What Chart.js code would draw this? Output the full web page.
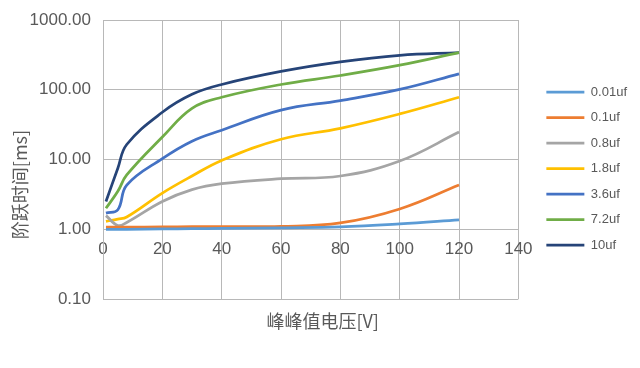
<!DOCTYPE html>
<html>
<head>
<meta charset="utf-8">
<script src="https://cdn.jsdelivr.net/npm/chart.js@4"></script>
<style>
  html, body { margin: 0; padding: 0; background: #ffffff; }
  #wrap { width: 640px; height: 368px; }
</style>
</head>
<body>
<div id="wrap"><canvas id="c" width="640" height="368"></canvas></div>
<script>
// ---- data ----
const voltages = [1, 5, 8, 20, 30, 40, 60, 80, 100, 120];
const seriesNames = ['0.01uf', '0.1uf', '0.8uf', '1.8uf', '3.6uf', '7.2uf', '10uf'];
const s001 = [1.00, 1.00, 1.00, 1.01, 1.02, 1.03, 1.05, 1.08, 1.19, 1.36];
const s01  = [1.07, 1.07, 1.07, 1.08, 1.09, 1.09, 1.10, 1.23, 1.95, 4.3];
const s08  = [1.57, 1.13, 1.25, 2.5, 3.7, 4.5, 5.3, 5.8, 9.5, 24.7];
const s18  = [1.3, 1.4, 1.5, 3.3, 5.8, 9.7, 19.5, 28, 45, 78];
const s36  = [1.7, 1.9, 4.3, 10.3, 18.3, 26.3, 51, 70, 101, 169];
const s72  = [2.0, 3.5, 6.0, 21, 54, 78, 119, 160, 225, 340];
const s10  = [2.5, 7.5, 16.4, 47.6, 86, 119, 183, 251, 311, 340];
const yTickValues = [0.1, 1, 10, 100, 1000];
const xTitle = '峰峰值电压[V]';
const yTitle = '阶跃时间[ms]';

const seriesValues = [s001, s01, s08, s18, s36, s72, s10];
const colors = ['#5B9BD5', '#ED7D31', '#A5A5A5', '#FFC000', '#4472C4', '#70AD47', '#264478'];

const datasets = seriesNames.map((name, i) => ({
  label: name,
  data: voltages.map((v, j) => ({ x: v, y: seriesValues[i][j] })),
  borderColor: colors[i],
  backgroundColor: colors[i],
  borderWidth: 2.75,
  pointRadius: 0,
  pointHoverRadius: 0,
  tension: 0.4,
  fill: false
}));

const gridColor = '#B8B8B8';
const textColor = '#595959';

const titlesPlugin = {
  id: 'axisTitles',
  afterDraw(chart) {
    const { ctx, chartArea } = chart;
    ctx.save();
    ctx.fillStyle = textColor;
    ctx.font = '18px "Noto Sans CJK SC", sans-serif';
    ctx.textAlign = 'center';
    ctx.textBaseline = 'middle';
    ctx.fillText(xTitle, (chartArea.left + chartArea.right) / 2 + 12, chartArea.bottom + 22);
    ctx.translate(20, (chartArea.top + chartArea.bottom) / 2 + 25);
    ctx.rotate(-Math.PI / 2);
    ctx.fillText(yTitle, 0, 0);
    ctx.restore();
  }
};

new Chart(document.getElementById('c'), {
  type: 'line',
  data: { datasets },
  plugins: [titlesPlugin],
  options: {
    responsive: false,
    animation: false,
    devicePixelRatio: 1,
    layout: { padding: { top: 20, bottom: 69, left: 0, right: 3 } },
    plugins: {
      tooltip: { enabled: false },
      legend: {
        position: 'right',
        title: { display: true, text: '', font: { size: 12 }, padding: 2 },
        labels: {
          usePointStyle: true,
          pointStyle: 'line',
          pointStyleWidth: 38,
          boxWidth: 38,
          padding: 12.5,
          color: textColor,
          font: { family: "'Liberation Sans', sans-serif", size: 13 }
        }
      }
    },
    scales: {
      x: {
        type: 'linear',
        position: { y: 1 },
        min: 0,
        max: 140,
        ticks: {
          stepSize: 20,
          padding: 10,
          color: textColor,
          font: { family: "'Liberation Sans', sans-serif", size: 17 }
        },
        grid: { color: gridColor, drawTicks: false },
        border: { color: gridColor }
      },
      y: {
        type: 'logarithmic',
        position: 'left',
        min: 0.1,
        max: 1000,
        afterBuildTicks(scale) {
          scale.ticks = yTickValues.map(v => ({ value: v }));
        },
        afterFit(scale) {
          scale.width = 103;
          scale.paddingTop = 0;
          scale.paddingBottom = 0;
        },
        ticks: {
          padding: 12,
          color: textColor,
          font: { family: "'Liberation Sans', sans-serif", size: 17 },
          callback: v => Number(v).toFixed(2)
        },
        grid: { color: gridColor, drawTicks: false },
        border: { color: gridColor }
      },
      yGap: {
        type: 'linear',
        position: 'right',
        display: true,
        ticks: { display: false },
        grid: { display: false },
        border: { display: false },
        afterFit(scale) {
          scale.width = 15.5;
          scale.paddingTop = 0;
          scale.paddingBottom = 0;
        }
      }
    }
  }
});
</script>
</body>
</html>
